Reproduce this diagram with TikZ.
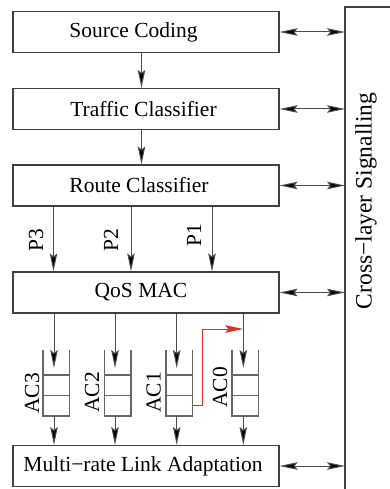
\documentclass[tikz,border=0pt]{standalone}
\usepackage{fontspec}
\setmainfont{Liberation Serif}
\usetikzlibrary{arrows.meta,calc}
\definecolor{sigred}{RGB}{225,45,35}
\begin{document}
\begin{tikzpicture}[x=1pt,y=-1pt,
  layerbox/.style={draw=black!75, line width=1.1pt, minimum width=266pt, minimum height=41pt, inner sep=0pt, font=\fontsize{21.5}{24}\selectfont},
  conn/.style={-{Stealth[length=18pt,width=7.5pt,inset=3pt,fill=black]}, draw=black!70, line width=1pt},
  biconn/.style={{Stealth[length=18pt,width=7.5pt,inset=3pt,fill=black]}-{Stealth[length=18pt,width=7.5pt,inset=3pt,fill=black]}, draw=black!70, line width=1pt},
  redconn/.style={-{Stealth[length=18pt,width=7.5pt,inset=3pt]}, draw=sigred, line width=1pt},
  qnode/.style={minimum width=26pt, minimum height=66pt, inner sep=0pt},
  qline/.style={draw=black!60, line width=1.3pt},
  vlabel/.style={rotate=90, inner sep=0pt, font=\fontsize{21.5}{24}\selectfont},
  bigvlabel/.style={rotate=90, inner sep=0pt, font=\fontsize{23.5}{26}\selectfont}
]
\useasboundingbox (0,0) rectangle (390,489);

% layer boxes
\node[layerbox] (src) at (146,32) {Source Coding\hspace*{25pt}};
\node[layerbox] (tc) at (146,109) {Traffic Classifier\hspace*{5pt}};
\node[layerbox] (rc) at (146,185.5) {Route Classifier\hspace*{14pt}};
\node[layerbox] (mac) at (146,292.5) {QoS MAC\hspace*{10pt}};
\node[layerbox] (mr) at (146,466) {Multi−rate Link Adaptation\hspace*{6pt}};

% cross-layer signalling frame
\coordinate (cl) at (345,7);
\draw[black!75, line width=1.1pt] (395,7) -- (cl) -- (345,495);
\node[bigvlabel] (cls) at (366,201) {Cross−layer Signalling};

% bidirectional signalling arrows
\draw[biconn] (src.east) -- (src.east -| cl);
\draw[biconn] (tc.east) -- (tc.east -| cl);
\draw[biconn] (rc.east) -- (rc.east -| cl);
\draw[biconn] (mac.east) -- (mac.east -| cl);
\draw[biconn] (mr.east) -- (mr.east -| cl);

% vertical flow
\coordinate (a0) at (141.5,0);
\draw[conn] (src.south -| a0) -- (tc.north -| a0);
\draw[conn] (tc.south -| a0) -- (rc.north -| a0);

% priority arrows
\coordinate (p3) at (53.5,0);
\coordinate (p2) at (131,0);
\coordinate (p1) at (212,0);
\draw[conn] (rc.south -| p3) -- (mac.north -| p3);
\draw[conn] (rc.south -| p2) -- (mac.north -| p2);
\draw[conn] (rc.south -| p1) -- (mac.north -| p1);
\node[vlabel] (lp3) at (36,240) {P3};
\node[vlabel] (lp2) at (111,240) {P2};
\node[vlabel] (lp1) at (194,235) {P1};

% queues
\foreach \n/\x in {3/56.3, 2/117.8, 1/179.2, 0/245.3} {
  \node[qnode] (q\n) at (\x,382.7) {};
  \draw[qline] (q\n.north west) -- (q\n.south west) -- (q\n.south east) -- (q\n.north east);
  \draw[qline] ($(q\n.north west)+(0,25.5)$) -- ($(q\n.north east)+(0,25.5)$);
  \draw[qline] ($(q\n.north west)+(0,46)$) -- ($(q\n.north east)+(0,46)$);
}

% queue arrows
\coordinate (t3) at (54,368);
\coordinate (t2) at (115,368);
\coordinate (t1) at (176.7,368);
\coordinate (t0) at (243.3,368);
\foreach \n in {3,2,1,0} {
  \draw[conn] (mac.south -| t\n) -- (t\n);
  \draw[conn] (q\n.south -| t\n) -- (mr.north -| t\n);
}

\node[vlabel] (l3) at (32,393.5) {AC3};
\node[vlabel] (l2) at (92,392.5) {AC2};
\node[vlabel] (l1) at (153.5,392.5) {AC1};
\node[vlabel] (l0) at (220,387.5) {AC0};

% red re-routing arrow
\coordinate (r0) at (243.3,329);
\draw[redconn] ($(q1.south east)+(0,-10)$) -- ++(10,0) |- (r0);
\end{tikzpicture}
\end{document}
